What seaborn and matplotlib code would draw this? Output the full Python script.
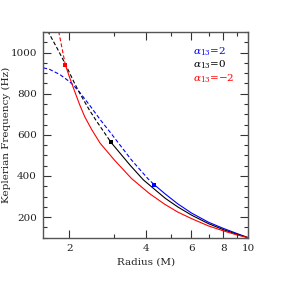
import matplotlib
matplotlib.use("Agg")
import matplotlib.pyplot as plt
import seaborn as sns
import pandas as pd
from matplotlib.ticker import FixedLocator, FixedFormatter, MultipleLocator, NullFormatter

# ---- data ----
# alpha13 = 2 (blue)
r_blue = [1.585, 1.68, 1.84, 2.0, 2.07, 2.204, 2.4, 2.639, 2.914, 3.5, 4.07, 4.301,
          4.736, 5.3, 6.0, 7.0, 8.0, 9.0, 10.0]
nu_blue = [926, 918, 893, 860, 843, 805, 745, 675, 607, 478, 385, 357,
           313, 265, 220, 175, 145, 121, 100]
r_blue_marker = 4.301
nu_blue_marker = 357

# alpha13 = 0 (black)
r_black = [1.649, 1.8, 1.931, 2.1, 2.204, 2.4, 2.553, 2.914, 3.46, 3.896, 4.736,
           5.3, 6.0, 7.0, 8.0, 9.0, 10.0]
nu_black = [1105, 1018, 945, 850, 800, 720, 668, 563, 452, 381, 292,
            250, 210, 168, 139, 117, 100]
r_black_marker = 2.914
nu_black_marker = 563

# alpha13 = -2 (red)
r_red = [1.82, 1.931, 2.0, 2.1, 2.2, 2.3, 2.45, 2.639, 3.0, 3.5, 4.1, 4.7,
         5.3, 6.0, 7.0, 8.0, 9.0, 10.0]
nu_red = [1103, 942, 885, 812, 745, 688, 625, 560, 478, 388, 316, 264,
          225, 193, 157, 133, 114, 100]
r_red_marker = 1.931
nu_red_marker = 942

labels = [r"$\alpha_{13}$=2", r"$\alpha_{13}$=0", r"$\alpha_{13}$=$-$2"]
x_ticks = [2, 4, 6, 8, 10]
x_minor = [3, 5, 7, 9]
y_ticks = [200, 400, 600, 800, 1000]

sns.set_style("ticks")
plt.rcParams['font.family'] = ['DejaVu Serif']
plt.rcParams['mathtext.fontset'] = 'dejavuserif'

fig = plt.figure(figsize=(2.81, 2.81), dpi=100)
ax = fig.add_axes([43.3 / 281, 1 - 237.7 / 281, 205 / 281, 205.7 / 281])

curves = [
    (r_blue, nu_blue, r_blue_marker, nu_blue_marker, "#0000ff"),
    (r_black, nu_black, r_black_marker, nu_black_marker, "#000000"),
    (r_red, nu_red, r_red_marker, nu_red_marker, "#ff0000"),
]
for r, nu, rm, nm, col in curves:
    df = pd.DataFrame({"r": r, "nu": nu})
    dash = df[df.r <= rm]
    solid = df[df.r >= rm]
    sns.lineplot(data=dash, x="r", y="nu", sort=False, estimator=None,
                 color=col, lw=0.8, ax=ax)
    ax.lines[-1].set_dashes([3.5, 2])
    sns.lineplot(data=solid, x="r", y="nu", sort=False, estimator=None,
                 color=col, lw=0.8, ax=ax)
    sns.scatterplot(x=[rm], y=[nm], marker="s", color=col, s=9,
                    edgecolor=col, linewidth=0, ax=ax, zorder=5)

ax.set_xscale("log")
ax.set_xlim(1.585, 10)
ax.set_ylim(100, 1100)
ax.xaxis.set_major_locator(FixedLocator(x_ticks))
ax.xaxis.set_major_formatter(FixedFormatter([str(t) for t in x_ticks]))
ax.xaxis.set_minor_locator(FixedLocator(x_minor))
ax.xaxis.set_minor_formatter(NullFormatter())
ax.yaxis.set_major_locator(FixedLocator(y_ticks))
ax.yaxis.set_minor_locator(MultipleLocator(50))

ax.tick_params(which="both", direction="in", top=True, right=True,
               colors="#333333", labelcolor="#222222", width=0.8, labelsize=7.5, pad=4.5)
ax.tick_params(which="major", length=6)
ax.tick_params(which="minor", length=3)
for s in ax.spines.values():
    s.set_color("#555555")
    s.set_linewidth(1.0)

ax.set_xlabel("Radius (M)", fontsize=7.5, color="#222222")
ax.set_ylabel("Keplerian Frequency (Hz)", fontsize=7.5, color="#222222")
ax.xaxis.label.set_va("center")
ax.yaxis.label.set_va("center")
ax.xaxis.set_label_coords(0.5, -0.118)
ax.yaxis.set_label_coords(-0.182, 0.5)

for lab, col, yb in zip(labels, ["#0000ff", "#000000", "#ff0000"], [0.893, 0.825, 0.757]):
    ax.text(0.729, yb, lab, color=col, fontsize=7.5, transform=ax.transAxes,
            ha="left", va="baseline")

fig.savefig("out.png", dpi=100)
